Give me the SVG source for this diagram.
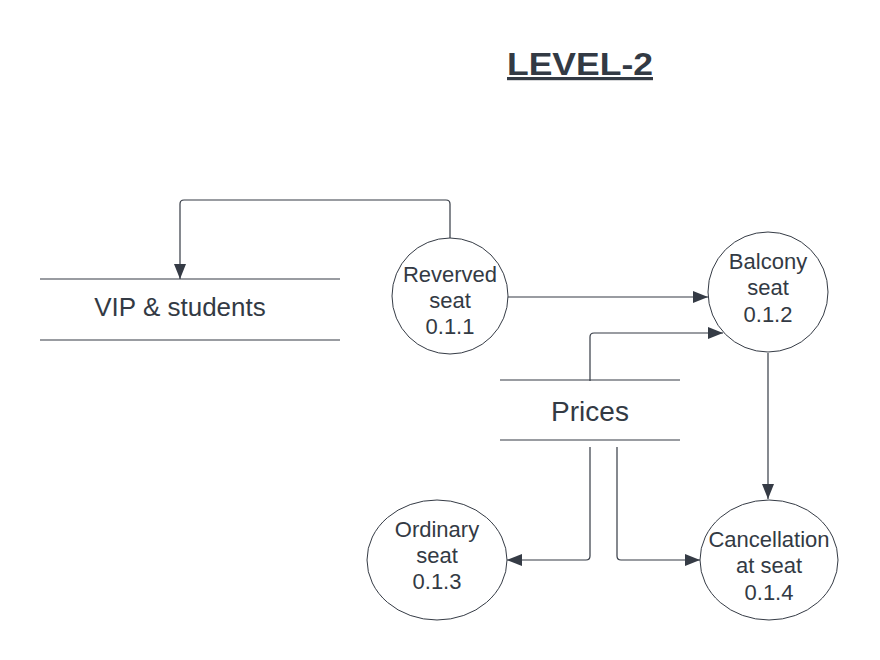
<svg xmlns="http://www.w3.org/2000/svg" width="880" height="660" viewBox="0 0 880 660">
<style>
text{font-family:"Liberation Sans",Arial,sans-serif;fill:#333a44;text-anchor:middle}
.proc{fill:#fff;stroke:#353b45;stroke-width:1}
.store{stroke:#353b45;stroke-width:1.2}
.lbl{font-size:22px}
.conn{fill:none;stroke:#353b45;stroke-width:1.2;marker-end:url(#arr)}
</style>
<defs>
<marker id="arr" markerUnits="userSpaceOnUse" markerWidth="16" markerHeight="12" refX="15" refY="6" orient="auto">
<path d="M0,0 L15,6 L0,12 Z" fill="#353b45"/>
</marker>
</defs>
<rect width="880" height="660" fill="#fff"/>
<g id="title">
<text x="580" y="75" font-size="32" font-weight="bold" textLength="146" lengthAdjust="spacingAndGlyphs" text-decoration="underline">LEVEL-2</text>
</g>
<g id="connectors">
<path class="conn" d="M450,239 V204 Q450,200 446,200 H184 Q180,200 180,204 V279"/>
<path class="conn" d="M508,297 H708"/>
<path class="conn" d="M590,381 V337 Q590,333 594,333 H723"/>
<path class="conn" d="M768,353 V499"/>
<path class="conn" d="M590,447 V556 Q590,560 586,560 H507"/>
<path class="conn" d="M617,447 V556 Q617,560 621,560 H700"/>
</g>
<g id="vip-students">
<line class="store" x1="40" y1="279" x2="340" y2="279"/>
<line class="store" x1="40" y1="340" x2="340" y2="340"/>
<text x="180" y="316" font-size="26">VIP &amp; students</text>
</g>
<g id="prices">
<line class="store" x1="500" y1="380" x2="680" y2="380"/>
<line class="store" x1="500" y1="440" x2="680" y2="440"/>
<text x="590" y="421" font-size="28">Prices</text>
</g>
<g id="reverved-seat">
<ellipse class="proc" cx="450" cy="296" rx="58" ry="58"/>
<text class="lbl" x="450" y="282">Reverved</text>
<text class="lbl" x="450" y="308">seat</text>
<text class="lbl" x="450" y="334">0.1.1</text>
</g>
<g id="balcony-seat">
<ellipse class="proc" cx="768" cy="292" rx="60" ry="60"/>
<text class="lbl" x="768" y="269">Balcony</text>
<text class="lbl" x="768" y="295">seat</text>
<text class="lbl" x="768" y="322">0.1.2</text>
</g>
<g id="ordinary-seat">
<ellipse class="proc" cx="437" cy="560" rx="70" ry="60"/>
<text class="lbl" x="437" y="537">Ordinary</text>
<text class="lbl" x="437" y="563">seat</text>
<text class="lbl" x="437" y="589">0.1.3</text>
</g>
<g id="cancellation-at-seat">
<ellipse class="proc" cx="769" cy="560" rx="69" ry="60"/>
<text class="lbl" x="769" y="547">Cancellation</text>
<text class="lbl" x="769" y="573">at seat</text>
<text class="lbl" x="769" y="600">0.1.4</text>
</g>
</svg>
